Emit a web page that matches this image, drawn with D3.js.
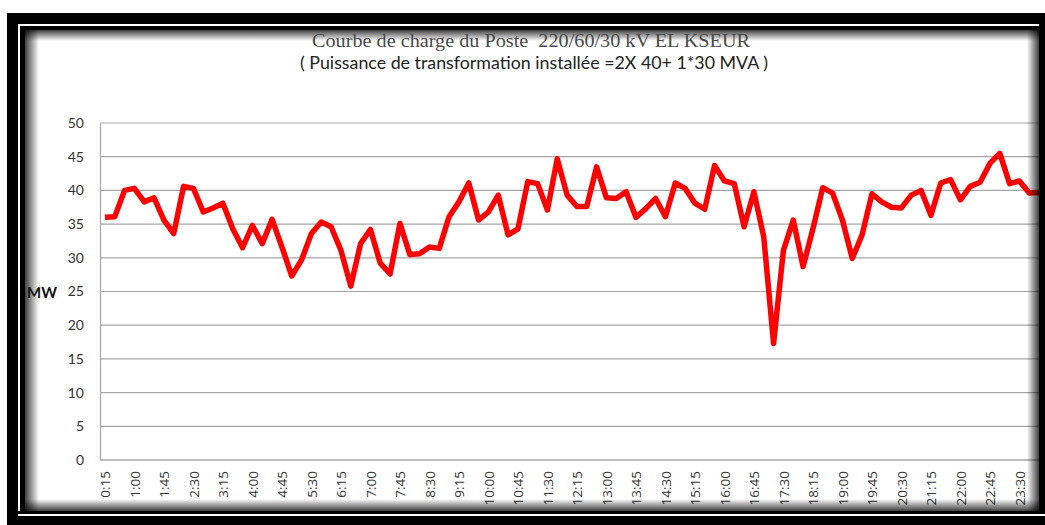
<!DOCTYPE html>
<html>
<head>
<meta charset="utf-8">
<script src="https://cdn.jsdelivr.net/npm/d3@7"></script>
<style>
  body { margin: 0; background: #fff; }
  svg { display: block; }
</style>
</head>
<body>
<div id="chart"></div>
<script>
// load curve, one point every 15 min
const times = [
  '0:15', '0:30', '0:45', '1:00', '1:15', '1:30', '1:45', '2:00', '2:15', '2:30', '2:45', '3:00',
  '3:15', '3:30', '3:45', '4:00', '4:15', '4:30', '4:45', '5:00', '5:15', '5:30', '5:45', '6:00',
  '6:15', '6:30', '6:45', '7:00', '7:15', '7:30', '7:45', '8:00', '8:15', '8:30', '8:45', '9:00',
  '9:15', '9:30', '9:45', '10:00', '10:15', '10:30', '10:45', '11:00', '11:15', '11:30', '11:45', '12:00',
  '12:15', '12:30', '12:45', '13:00', '13:15', '13:30', '13:45', '14:00', '14:15', '14:30', '14:45', '15:00',
  '15:15', '15:30', '15:45', '16:00', '16:15', '16:30', '16:45', '17:00', '17:15', '17:30', '17:45', '18:00',
  '18:15', '18:30', '18:45', '19:00', '19:15', '19:30', '19:45', '20:00', '20:15', '20:30', '20:45', '21:00',
  '21:15', '21:30', '21:45', '22:00', '22:15', '22:30', '22:45', '23:00', '23:15', '23:30', '23:45', '0:00'
]
const puissance = [
  36.0, 36.1, 40.0, 40.3, 38.3, 38.9, 35.6, 33.6, 40.6, 40.3, 36.8, 37.4,
  38.1, 34.3, 31.5, 34.8, 32.1, 35.7, 31.6, 27.3, 29.7, 33.6, 35.3, 34.6,
  31.1, 25.8, 32.1, 34.2, 29.2, 27.6, 35.1, 30.5, 30.6, 31.6, 31.4, 36.1,
  38.3, 41.1, 35.6, 36.8, 39.3, 33.4, 34.3, 41.3, 41.0, 37.1, 44.7, 39.3,
  37.6, 37.6, 43.5, 38.9, 38.8, 39.8, 36.0, 37.3, 38.8, 36.1, 41.1, 40.3,
  38.1, 37.2, 43.7, 41.4, 41.0, 34.6, 39.8, 33.1, 17.3, 31.1, 35.6, 28.7,
  34.3, 40.4, 39.6, 35.6, 29.9, 33.4, 39.5, 38.3, 37.5, 37.4, 39.3, 40.0,
  36.3, 41.1, 41.6, 38.6, 40.6, 41.2, 44.0, 45.5, 41.0, 41.4, 39.6, 39.7
]
const xTickLabels = [
  '0:15', '1:00', '1:45', '2:30', '3:15', '4:00', '4:45', '5:30', '6:15', '7:00', '7:45',
  '8:30', '9:15', '10:00', '10:45', '11:30', '12:15', '13:00', '13:45', '14:30', '15:15', '16:00',
  '16:45', '17:30', '18:15', '19:00', '19:45', '20:30', '21:15', '22:00', '22:45', '23:30'
]
const yTicks = [0, 5, 10, 15, 20, 25, 30, 35, 40, 45, 50]

const W = 1045
const H = 525

const svg = d3.select('#chart').append('svg')
  .attr('width', W)
  .attr('height', H)

// frame: thick black border, thin white line, thin black line
svg.append('rect').attr('x', 7).attr('y', 13).attr('width', W).attr('height', H).attr('fill', '#000')
svg.append('rect').attr('x', 18).attr('y', 24).attr('width', W).attr('height', 491).attr('fill', '#fff')
svg.append('rect').attr('x', 20).attr('y', 26).attr('width', W).attr('height', 487).attr('fill', '#000')
svg.append('rect').attr('x', 25).attr('y', 30).attr('width', 1014).attr('height', 481).attr('fill', '#fff')

// inner shadow of the chart area
const defs = svg.append('defs')
function shade (id, x1, y1, x2, y2) {
  const g = defs.append('linearGradient').attr('id', id)
    .attr('x1', x1).attr('y1', y1).attr('x2', x2).attr('y2', y2)
  g.append('stop').attr('offset', '0%').attr('stop-color', '#000').attr('stop-opacity', 0.75)
  g.append('stop').attr('offset', '100%').attr('stop-color', '#000').attr('stop-opacity', 0)
}
shade('sh-left', 0, 0, 1, 0)
shade('sh-top', 0, 0, 0, 1)
shade('sh-right', 1, 0, 0, 0)
shade('sh-bottom', 0, 1, 0, 0)
svg.append('rect').attr('x', 25).attr('y', 30).attr('width', 14).attr('height', 481).attr('fill', 'url(#sh-left)')
svg.append('rect').attr('x', 25).attr('y', 30).attr('width', 1014).attr('height', 11).attr('fill', 'url(#sh-top)')

const margin = { top: 123, right: 1, bottom: 65, left: 100 }
const width = W - margin.left - margin.right
const height = 460 - margin.top

const g = svg.append('g')
  .attr('transform', 'translate(' + margin.left + ',' + margin.top + ')')

const x = d3.scalePoint()
  .domain(times)
  .range([0, 944])
  .padding(0.5)

const y = d3.scaleLinear()
  .domain([0, 50])
  .range([height, 0])

// gridlines
g.append('g')
  .selectAll('line')
  .data(yTicks)
  .join('line')
  .attr('x1', 0)
  .attr('x2', width)
  .attr('y1', d => y(d))
  .attr('y2', d => y(d))
  .attr('stroke', '#a6a6a6')
  .attr('stroke-width', 1.2)

// y axis
const yAxis = g.append('g')
  .call(d3.axisLeft(y).tickValues(yTicks).tickSize(0).tickPadding(16))
yAxis.select('.domain').attr('stroke', '#a6a6a6').attr('stroke-width', 1.2)
yAxis.selectAll('text')
  .attr('font-family', 'Lato, "Open Sans", sans-serif')
  .attr('font-size', 14)
  .attr('fill', '#333')

// x axis
const xAxis = g.append('g')
  .attr('transform', 'translate(0,' + height + ')')
  .call(d3.axisBottom(x).tickValues(xTickLabels).tickSize(0))
xAxis.select('.domain').attr('d', 'M0,0H' + width).attr('stroke', '#a6a6a6').attr('stroke-width', 1.2)
xAxis.selectAll('text')
  .attr('font-family', '"Open Sans", Lato, sans-serif')
  .attr('font-size', 13.5)
  .attr('fill', '#333')
  .attr('text-anchor', 'end')
  .attr('transform', 'rotate(-90)')
  .attr('x', -11)
  .attr('y', 0)
  .attr('dy', '0.35em')

// load curve
const line = d3.line()
  .x((d, i) => x(times[i]))
  .y(d => y(d))

g.append('path')
  .datum(puissance)
  .attr('d', line)
  .attr('fill', 'none')
  .attr('stroke', '#ff0000')
  .attr('stroke-width', 5.5)
  .attr('stroke-linejoin', 'round')

// axis unit
svg.append('text')
  .attr('x', 27)
  .attr('y', 298)
  .attr('font-family', 'Lato, sans-serif')
  .attr('font-size', 15)
  .attr('font-weight', 'bold')
  .attr('fill', '#111')
  .text('MW')

// titles
svg.append('text')
  .attr('x', 531)
  .attr('y', 47)
  .attr('text-anchor', 'middle')
  .attr('font-family', '"Liberation Serif", serif')
  .attr('font-size', 19)
  .attr('fill', '#4a4a4a')
  .attr('textLength', 438)
  .attr('lengthAdjust', 'spacingAndGlyphs')
  .style('white-space', 'pre')
  .text('Courbe de charge du Poste  220/60/30 kV EL KSEUR')

svg.append('text')
  .attr('x', 534)
  .attr('y', 69)
  .attr('text-anchor', 'middle')
  .attr('font-family', 'Lato, sans-serif')
  .attr('font-size', 17)
  .attr('fill', '#222')
  .attr('textLength', 468)
  .attr('lengthAdjust', 'spacingAndGlyphs')
  .text('( Puissance de transformation installée =2X 40+ 1*30 MVA )')

// frame on top: right and bottom edges with shadow
svg.append('rect').attr('x', 1027).attr('y', 30).attr('width', 12).attr('height', 481).attr('fill', 'url(#sh-right)')
svg.append('rect').attr('x', 25).attr('y', 499).attr('width', 1014).attr('height', 12).attr('fill', 'url(#sh-bottom)')
svg.append('rect').attr('x', 1039).attr('y', 13).attr('width', 10).attr('height', H).attr('fill', '#000')
svg.append('rect').attr('x', 7).attr('y', 511).attr('width', W).attr('height', 3).attr('fill', '#000')
svg.append('rect').attr('x', 7).attr('y', 516).attr('width', W).attr('height', 10).attr('fill', '#000')
svg.append('rect').attr('x', 18).attr('y', 514).attr('width', W).attr('height', 2).attr('fill', '#fff')
</script>
</body>
</html>
